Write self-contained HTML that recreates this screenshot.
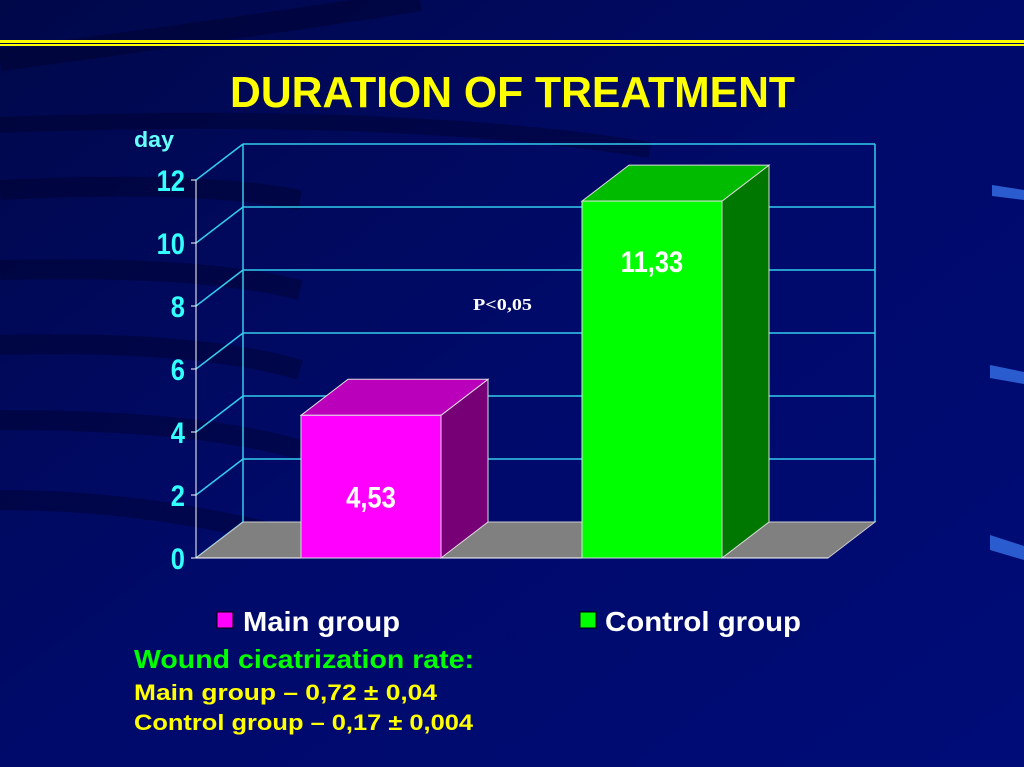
<!DOCTYPE html>
<html><head><meta charset="utf-8"><style>
html,body{margin:0;padding:0;background:#000066;}
svg{display:block;font-family:"Liberation Sans",Arial,sans-serif;}
</style></head><body>
<svg id="chart" width="1024" height="767" viewBox="0 0 1024 767">
<defs>
<linearGradient id="bg" x1="0" y1="0" x2="1" y2="1">
<stop offset="0" stop-color="#00084a"/><stop offset="0.5" stop-color="#000a6a"/><stop offset="1" stop-color="#000c78"/>
</linearGradient>
</defs>
<rect width="1024" height="767" fill="url(#bg)"/>
<g opacity="0.35" fill="none" stroke="#000020">
<path d="M0 60 Q300 20 420 0" stroke-width="22"/>
<path d="M0 125 Q400 110 650 150" stroke-width="16"/>
<path d="M0 190 Q200 180 300 200" stroke-width="20"/>
<path d="M0 270 Q200 265 300 290" stroke-width="20"/>
<path d="M0 345 Q200 340 300 370" stroke-width="20"/>
<path d="M0 420 Q200 420 300 450" stroke-width="20"/>
<path d="M0 500 Q150 500 300 540" stroke-width="20"/>
</g>
<rect x="0" y="40" width="1024" height="3" fill="#ffff00"/>
<rect x="0" y="44" width="1024" height="2" fill="#ffff00"/>
<g fill="#2a5cd0">
<polygon points="992,185 1024,190 1024,200 992,196"/>
<polygon points="990,365 1024,372 1024,384 990,378"/>
<polygon points="990,535 1024,546 1024,560 990,550"/>
</g>
<text x="230" y="107" font-size="44" font-weight="bold" fill="#ffff00" textLength="565" lengthAdjust="spacingAndGlyphs">DURATION OF TREATMENT</text>
<text x="134" y="147" font-size="22" font-weight="bold" fill="#66ffff" textLength="40" lengthAdjust="spacingAndGlyphs">day</text>
<g id="plot"></g>
<text x="473" y="310" font-family="Liberation Serif,serif" font-size="17" font-weight="bold" fill="#ffffff" textLength="59" lengthAdjust="spacingAndGlyphs">P&lt;0,05</text>
<rect x="217" y="612" width="16" height="16" fill="#ff00ff" stroke="#000" stroke-width="1"/>
<text x="243" y="631" font-size="28" font-weight="bold" fill="#ffffff" textLength="157" lengthAdjust="spacingAndGlyphs">Main group</text>
<rect x="580" y="612" width="16" height="16" fill="#00ff00" stroke="#000" stroke-width="1"/>
<text x="605" y="631" font-size="28" font-weight="bold" fill="#ffffff" textLength="196" lengthAdjust="spacingAndGlyphs">Control group</text>
<text x="134" y="668" font-size="26" font-weight="bold" fill="#00ff00" textLength="340" lengthAdjust="spacingAndGlyphs">Wound cicatrization rate:</text>
<text x="134" y="700" font-size="22" font-weight="bold" fill="#ffff00" textLength="303" lengthAdjust="spacingAndGlyphs">Main group – 0,72 ± 0,04</text>
<text x="134" y="730" font-size="22" font-weight="bold" fill="#ffff00" textLength="339" lengthAdjust="spacingAndGlyphs">Control group – 0,17 ± 0,004</text>
</svg>
<script>
const categories = ["Main group", "Control group"];
const values = [4.53, 11.33];
const valueLabels = ["4,53", "11,33"];
const ticks = [0, 2, 4, 6, 8, 10, 12];
const frontColors = ["#ff00ff", "#00ff00"];
const topColors = ["#bb00bb", "#00bb00"];
const sideColors = ["#770077", "#007700"];

const NS = "http://www.w3.org/2000/svg";
const g = document.getElementById("plot");
const X0 = 196, Y0 = 558, DX = 47, DY = -36, XR = 828, PX_PER = 31.5;
const y = v => Y0 - v * PX_PER;
const barLeft = i => 301 + i * 281;
const BW = 140;
function el(tag, attrs) {
  const e = document.createElementNS(NS, tag);
  for (const k in attrs) e.setAttribute(k, attrs[k]);
  g.appendChild(e);
  return e;
}
ticks.forEach(t => {
  if (t > 0) {
    const gl = el("line", {x1: X0 + DX, y1: y(t) + DY, x2: XR + DX, y2: y(t) + DY, stroke: "#33ccee", "stroke-width": 1.5});
    
    
  }
  const d = el("line", {x1: X0, y1: y(t), x2: X0 + DX, y2: y(t) + DY, stroke: "#33ccee", "stroke-width": 1.5});
  
  
  const tk = el("line", {x1: X0 - 5, y1: y(t), x2: X0, y2: y(t), stroke: "#ffffff", "stroke-width": 1});
  
  
  const lb = el("text", {x: X0 - 11, y: y(t) + 11, "text-anchor": "end", "font-size": 30, "font-weight": "bold", fill: "#33ffff", transform: `translate(${X0 - 11},0) scale(0.85,1) translate(${-(X0 - 11)},0)`});
  lb.textContent = t;
  
  
});
const wall = el("line", {x1: X0 + DX, y1: y(0) + DY, x2: X0 + DX, y2: y(12) + DY, stroke: "#33ccee", "stroke-width": 1.5});


const wallR = el("line", {x1: XR + DX, y1: y(0) + DY, x2: XR + DX, y2: y(12) + DY, stroke: "#33ccee", "stroke-width": 1.5});


const floor = el("polygon", {points: `${X0},${Y0} ${X0+DX},${Y0+DY} ${XR+DX},${Y0+DY} ${XR},${Y0}`, fill: "#808080", stroke: "#cccccc", "stroke-width": 1});


const ax = el("line", {x1: X0, y1: y(0), x2: X0, y2: y(12), stroke: "#ffffff", "stroke-width": 1});


const xa = el("line", {x1: X0, y1: Y0, x2: XR, y2: Y0, stroke: "#ffffff", "stroke-width": 1});


values.forEach((v, i) => {
  const L = barLeft(i), R = L + BW, T = y(v);
  const side = el("polygon", {points: `${R},${Y0} ${R+DX},${Y0+DY} ${R+DX},${T+DY} ${R},${T}`, fill: sideColors[i], stroke: "#dddddd", "stroke-width": 1});
  
  
  const top = el("polygon", {points: `${L},${T} ${L+DX},${T+DY} ${R+DX},${T+DY} ${R},${T}`, fill: topColors[i], stroke: "#dddddd", "stroke-width": 1});
  
  
  const front = el("rect", {x: L, y: T, width: BW, height: Y0 - T, fill: frontColors[i], stroke: "#dddddd", "stroke-width": 1});
  
  
  const cx = L + BW / 2;
  const lbl = el("text", {x: cx, y: i === 0 ? y(v) + 92 : y(v) + 71, "text-anchor": "middle", "font-size": 30, "font-weight": "bold", fill: "#ffffff", transform: `translate(${cx},0) scale(0.85,1) translate(${-cx},0)`});
  lbl.textContent = valueLabels[i];
  
  
});
</script>
</body></html>
